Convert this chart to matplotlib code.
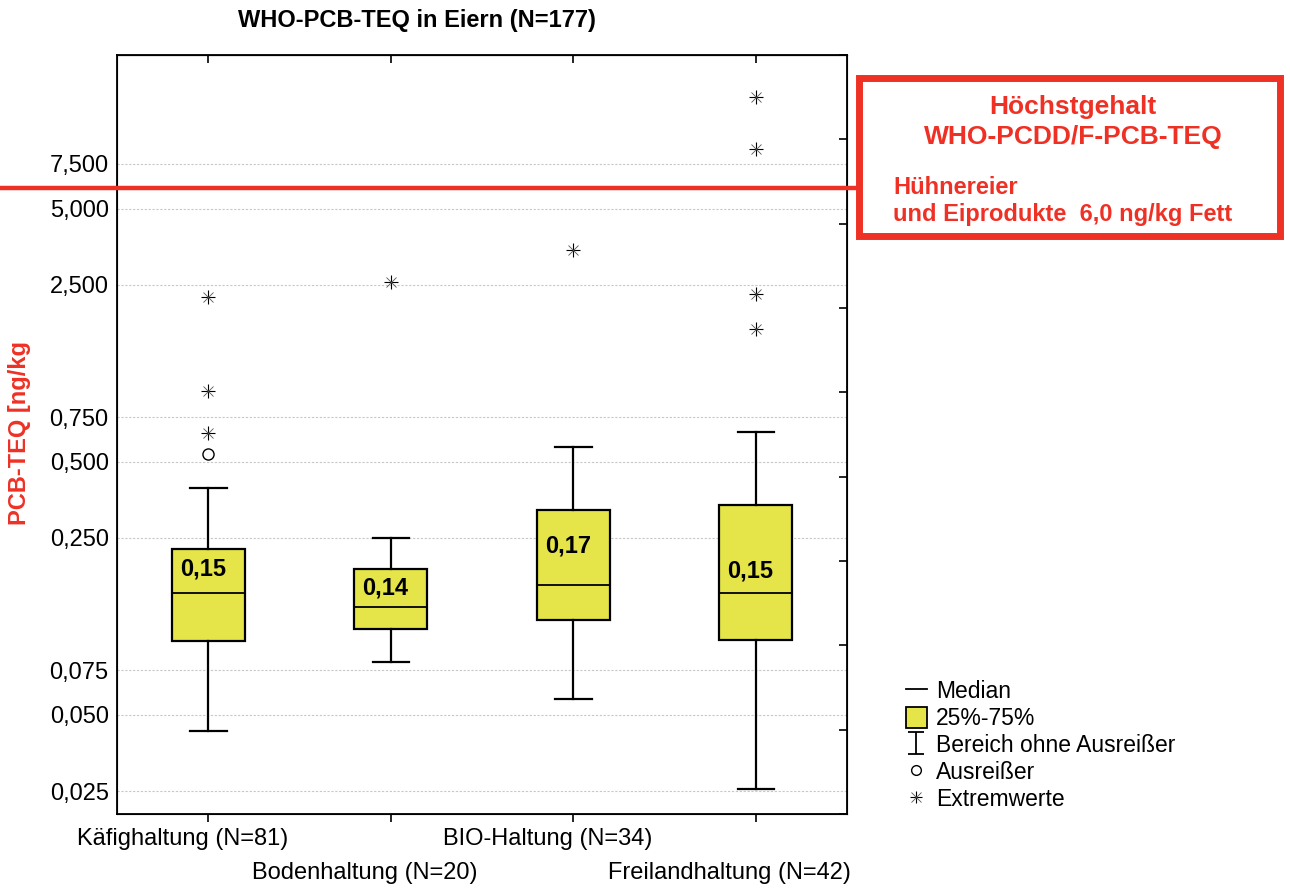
import numpy as np
import matplotlib
matplotlib.use('Agg')
import matplotlib.pyplot as plt
import matplotlib.transforms as mtransforms
from matplotlib.lines import Line2D
from matplotlib.patches import Patch, Rectangle
from matplotlib.path import Path

plt.rcParams['font.family'] = ['Liberation Sans', 'DejaVu Sans']

# Daten
groups = ['Käfighaltung (N=81)', 'Bodenhaltung (N=20)',
          'BIO-Haltung (N=34)', 'Freilandhaltung (N=42)']
whis_lo = [0.043, 0.081, 0.058, 0.0254]
q1 = [0.098, 0.109, 0.118, 0.099]
median = [0.151, 0.133, 0.163, 0.151]
q3 = [0.227, 0.188, 0.321, 0.336]
whis_hi = [0.392, 0.249, 0.574, 0.658]
median_labels = ['0,15', '0,14', '0,17', '0,15']
outliers = [[0.538], [], [], []]
extremes = [[0.652, 0.955, 2.24], [2.57], [3.43], [1.67, 2.30, 8.59, 13.8]]
limit = 6.0
ytick_vals = [0.025, 0.05, 0.075, 0.25, 0.5, 0.75, 2.5, 5, 7.5]
ytick_labels = ['0,025', '0,050', '0,075', '0,250', '0,500', '0,750',
                '2,500', '5,000', '7,500']

RED = '#ee3124'
YELLOW = '#e5e54a'
W, H = 1290, 888


def px(x, y):
    return x / W, 1 - y / H


fig = plt.figure(figsize=(W / 100, H / 100), dpi=100)
ax = fig.add_axes([117 / W, 74 / H, 730 / W, 759 / H])

pos = np.arange(1, len(groups) + 1)
stats = [dict(med=median[i], q1=q1[i], q3=q3[i], whislo=whis_lo[i],
              whishi=whis_hi[i], fliers=[]) for i in range(len(groups))]
ax.bxp(stats, positions=pos, widths=0.4, capwidths=0.2, patch_artist=True,
       showfliers=False,
       boxprops=dict(facecolor=YELLOW, edgecolor='black', linewidth=1.6),
       medianprops=dict(color='black', linewidth=1.3),
       whiskerprops=dict(color='black', linewidth=1.6),
       capprops=dict(color='black', linewidth=1.6))


def asterisk(x, y, size=10):
    # Stern: durchgezogenes Kreuz + feines Diagonalkreuz
    ax.plot(x, y, ls='none', marker='+', color='black', ms=size, mew=0.8)
    ax.plot(x, y, ls='none', marker='x', color='#555555', ms=size * 0.75, mew=0.6)


for i in range(len(groups)):
    if outliers[i]:
        ax.plot([pos[i]] * len(outliers[i]), outliers[i], 'o', mfc='none',
                mec='black', ms=8, mew=1.0)
    asterisk([pos[i]] * len(extremes[i]), extremes[i])

# Beschriftung der Mediane
label_rise = [1.25, 1.19, 1.43, 1.23]
for i in range(len(groups)):
    ax.text(pos[i] - 0.03, median[i] * label_rise[i], median_labels[i],
            ha='center', va='center', fontsize=17, fontweight='bold')

ax.set_yscale('log')
ax.set_ylim(0.0203, 20.2)
ax.set_xlim(0.5, 4.5)
ax.set_yticks(ytick_vals)
ax.set_yticklabels(ytick_labels, fontsize=17)
ax.yaxis.set_minor_locator(matplotlib.ticker.NullLocator())
ax.tick_params(axis='y', length=0, pad=6)
ax.yaxis.grid(True, color='#c8c8c8', linestyle=(0, (2, 1.5)), linewidth=0.8)
ax.set_axisbelow(True)

ax.set_xticks(pos)
ax.set_xticklabels(groups, fontsize=17)
ax.tick_params(axis='x', direction='out', length=6, width=1.2, pad=4)
for i, lab in enumerate(ax.get_xticklabels()):
    dy = 0 if i % 2 == 0 else -0.34
    lab.set_transform(lab.get_transform() +
                      mtransforms.ScaledTranslation(-0.26, dy, fig.dpi_scale_trans))

for s in ax.spines.values():
    s.set_linewidth(1.3)

# Ticks oben und rechts
top = ax.secondary_xaxis('top')
top.set_xticks(pos)
top.set_xticklabels([])
top.tick_params(direction='in', length=6, width=1.2)
right = ax.twinx()
right.set_ylim(0, 9)
right.set_yticks(np.arange(0, 10))
right.set_yticklabels([])
right.tick_params(direction='in', length=6, width=1.2)

# Höchstgehalt-Linie und Kasten
trans = mtransforms.blended_transform_factory(fig.transFigure, ax.transData)
fig.add_artist(Line2D([0, 857 / W], [limit, limit], transform=trans,
                      color=RED, linewidth=3.2))
x0, y0 = px(858.5, 236.5)
fig.add_artist(Rectangle((x0, y0), 421 / W, 158 / H, transform=fig.transFigure,
                         fill=False, edgecolor=RED, linewidth=5))
fig.text(*px(1073, 107), 'Höchstgehalt', color=RED, fontsize=19,
         fontweight='bold', ha='center', va='center')
fig.text(*px(1073, 137), 'WHO-PCDD/F-PCB-TEQ', color=RED, fontsize=19,
         fontweight='bold', ha='center', va='center')
fig.text(*px(893, 187), 'Hühnereier', color=RED, fontsize=17,
         fontweight='bold', ha='left', va='center')
fig.text(*px(893, 215), 'und Eiprodukte  6,0 ng/kg Fett', color=RED,
         fontsize=17, fontweight='bold', ha='left', va='center')

fig.text(*px(417, 21), 'WHO-PCB-TEQ in Eiern (N=177)', fontsize=17,
         fontweight='bold', ha='center', va='center')
fig.text(*px(20, 433), 'PCB-TEQ [ng/kg', color=RED, fontsize=17,
         fontweight='bold', rotation=90, ha='center', va='center')

# Legende
ibeam = Path([(-0.7, -1), (0.7, -1), (0, -1), (0, 1), (-0.7, 1), (0.7, 1)],
             [Path.MOVETO, Path.LINETO, Path.MOVETO, Path.LINETO,
              Path.MOVETO, Path.LINETO])
handles = [
    Line2D([], [], color='black', linewidth=1.3),
    Patch(facecolor=YELLOW, edgecolor='black', linewidth=1.3),
    Line2D([], [], ls='none', marker=ibeam, color='black', ms=16, mew=1.3),
    Line2D([], [], ls='none', marker='o', mfc='none', mec='black', ms=7, mew=1.0),
    (Line2D([], [], ls='none', marker='+', color='black', ms=9, mew=0.8),
     Line2D([], [], ls='none', marker='x', color='#555555', ms=7, mew=0.6)),
]
labels = ['Median', '25%-75%', 'Bereich ohne Ausreißer', 'Ausreißer', 'Extremwerte']
fig.legend(handles, labels, loc='upper left', bbox_to_anchor=px(906, 680),
           frameon=False, fontsize=16.5, handlelength=0.9, handleheight=1.0,
           handletextpad=0.4, labelspacing=0.17, borderpad=0, borderaxespad=0)

fig.savefig('out.png', dpi=100)
